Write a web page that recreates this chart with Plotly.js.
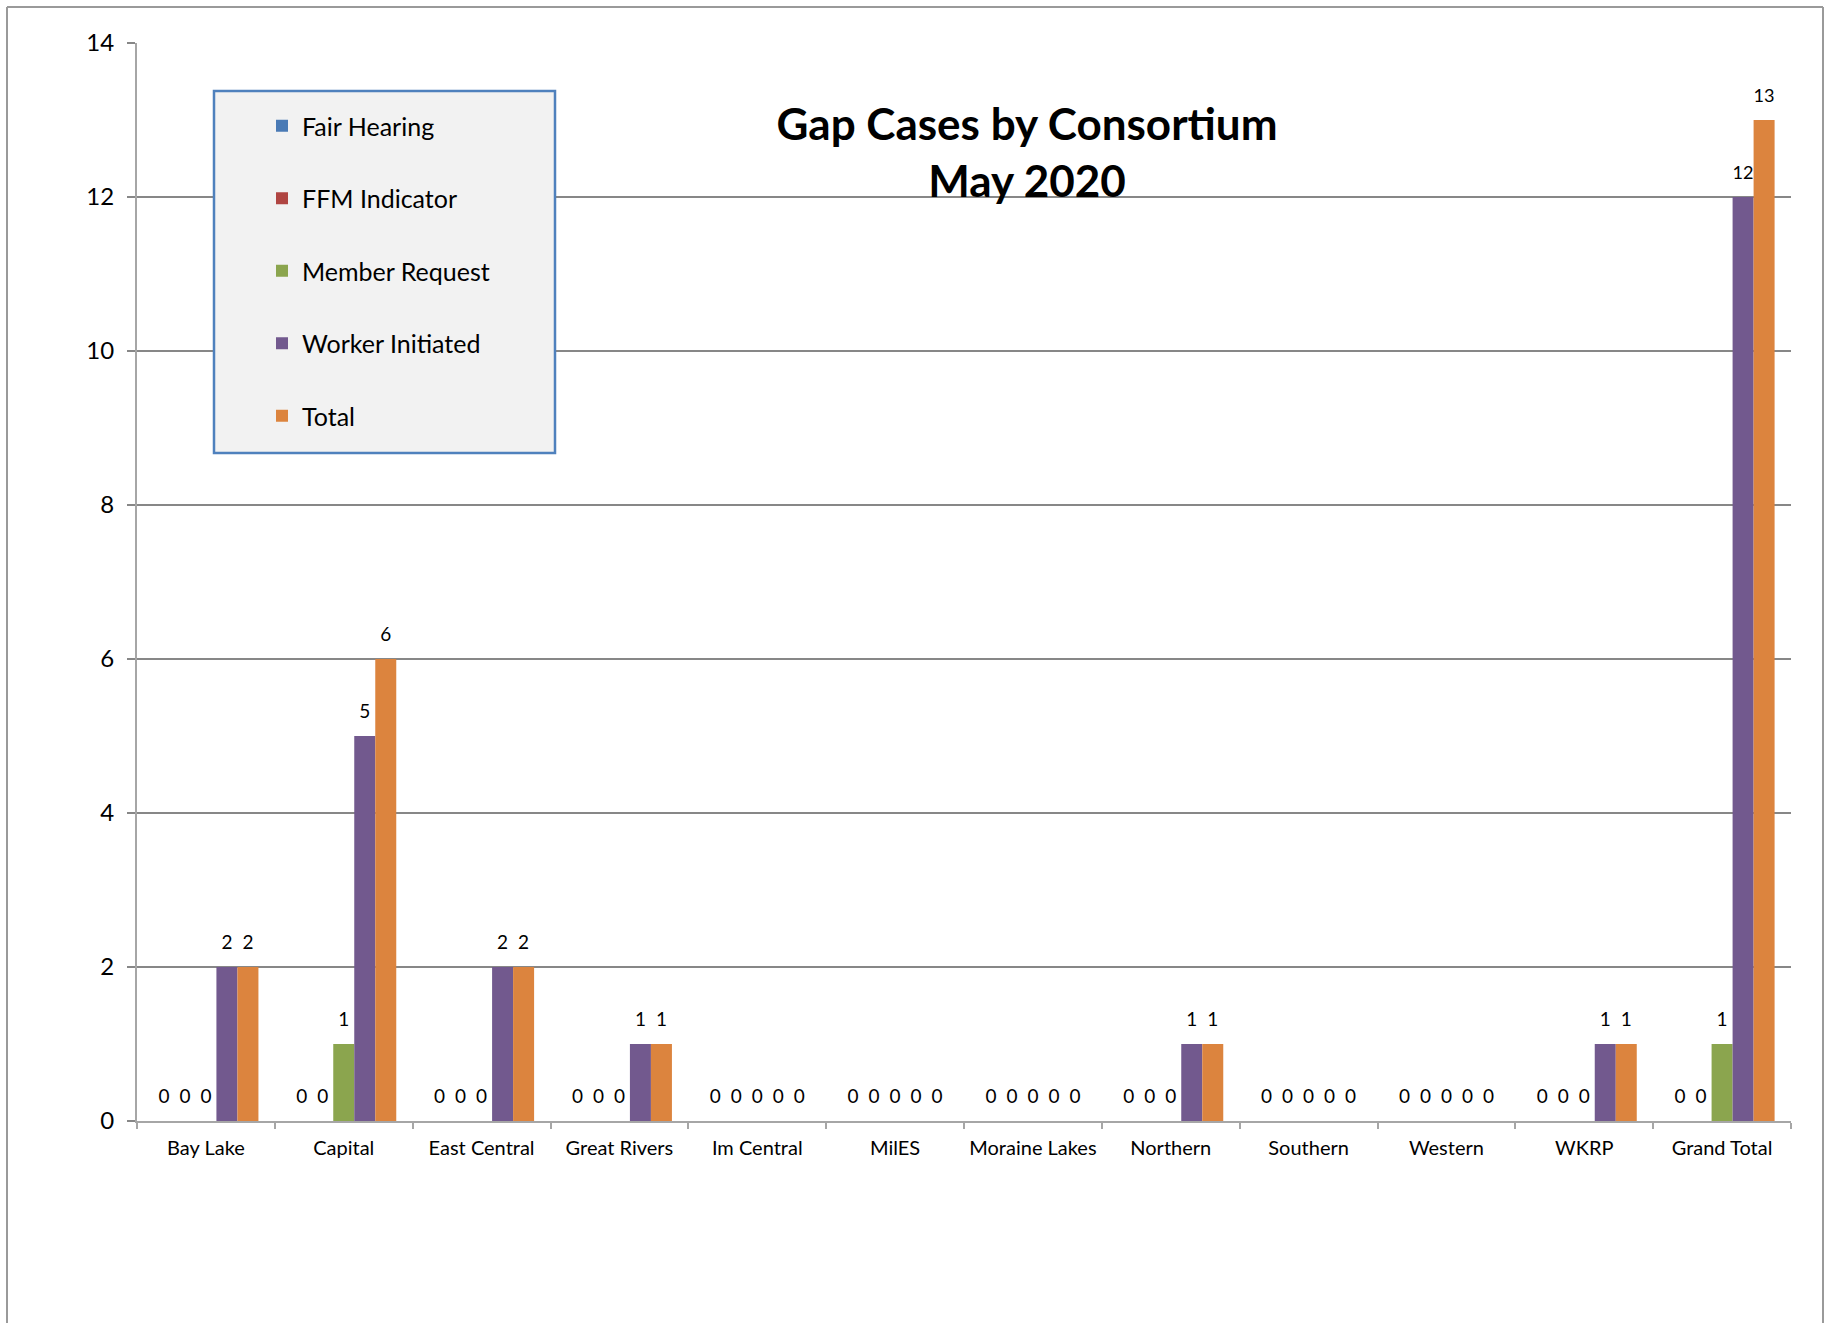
<!DOCTYPE html>
<html>
<head>
<meta charset="utf-8">
<script src="https://cdn.plot.ly/plotly-3.0.1.min.js"></script>
<style>
  html, body { margin: 0; padding: 0; background: #ffffff; }
  #chart { width: 1834px; height: 1323px; }
</style>
</head>
<body>
<div id="chart"></div>
<script>
// ---- data ----
const categories = ["Bay Lake", "Capital", "East Central", "Great Rivers", "Im Central", "MilES",
                    "Moraine Lakes", "Northern", "Southern", "Western", "WKRP", "Grand Total"];
const fairHearing     = [0, 0, 0, 0, 0, 0, 0, 0, 0, 0, 0, 0];
const ffmIndicator    = [0, 0, 0, 0, 0, 0, 0, 0, 0, 0, 0, 0];
const memberRequest   = [0, 1, 0, 0, 0, 0, 0, 0, 0, 0, 0, 1];
const workerInitiated = [2, 5, 2, 1, 0, 0, 0, 1, 0, 0, 1, 12];
const total           = [2, 6, 2, 1, 0, 0, 0, 1, 0, 0, 1, 13];
const seriesNames  = ["Fair Hearing", "FFM Indicator", "Member Request", "Worker Initiated", "Total"];
const seriesValues = [fairHearing, ffmIndicator, memberRequest, workerInitiated, total];
const seriesColors = ["#4a7ab5", "#b04542", "#8ba54e", "#72598e", "#dc843e"];
const yTickVals = [0, 2, 4, 6, 8, 10, 12, 14];

// ---- layout geometry (pixels) ----
const W = 1834, H = 1323;
const plotL = 137, plotR = 1791, plotT = 43, plotB = 1121;
const pw = plotR - plotL, ph = plotB - plotT;
const px = v => (v - plotL) / pw;
const py = v => (plotB - v) / ph;
const labelLift = 11; // extra px between bar top and data label
const yMax = 14;
const liftUnits = labelLift / ph * yMax;

const FONT = "Lato, 'Open Sans', 'DejaVu Sans', sans-serif";

const traces = [];
// visible bars with legend
seriesNames.forEach((name, i) => {
  traces.push({
    type: "bar",
    name: name,
    x: categories,
    y: seriesValues[i],
    marker: { color: seriesColors[i], line: { width: 0 } },
    legendgroup: "g" + i,
    hoverinfo: "x+y+name",
    xaxis: "x", yaxis: "y"
  });
});
// data-label traces on an overlaid axis (shifted slightly so labels sit above the bars)
seriesNames.forEach((name, i) => {
  traces.push({
    type: "bar",
    name: name + " label",
    x: categories,
    y: seriesValues[i],
    text: seriesValues[i].map(v => String(v)),
    textposition: "outside",
    cliponaxis: false,
    outsidetextfont: { family: FONT, size: 19, color: "#000000" },
    marker: { color: "rgba(0,0,0,0)", line: { width: 0 } },
    showlegend: false,
    hoverinfo: "skip",
    xaxis: "x", yaxis: "y2"
  });
});

const layout = {
  width: W, height: H,
  paper_bgcolor: "#ffffff",
  plot_bgcolor: "rgba(0,0,0,0)",
  margin: { l: plotL, r: W - plotR, t: plotT, b: H - plotB, pad: 0 },
  barmode: "group",
  bargap: 0.238,
  bargroupgap: 0,
  font: { family: FONT, color: "#000000" },
  title: {
    text: "Gap Cases by Consortium<br>May 2020",
    font: { family: FONT, size: 44, weight: "bold", color: "#000000" },
    xref: "container", x: 1027 / W, xanchor: "center",
    yref: "container", y: 1 - 140 / H, yanchor: "top"
  },
  xaxis: {
    type: "category",
    showgrid: false,
    showline: true, linecolor: "#a6a6a6", linewidth: 2,
    ticks: "outside", tickson: "boundaries", ticklen: 6, tickcolor: "#a6a6a6", tickwidth: 2,
    tickfont: { family: FONT, size: 20, color: "#000000" },
    ticklabelstandoff: 8,
    zeroline: false,
    fixedrange: true
  },
  yaxis: {
    range: [0, yMax],
    tickvals: yTickVals,
    showgrid: true, gridcolor: "#878787", gridwidth: 2,
    showline: true, linecolor: "#a6a6a6", linewidth: 2,
    ticks: "outside", ticklen: 8, tickcolor: "#878787", tickwidth: 2,
    tickfont: { family: FONT, size: 24, color: "#000000" },
    ticklabelstandoff: 8,
    zeroline: false,
    fixedrange: true
  },
  yaxis2: {
    overlaying: "y",
    range: [-liftUnits, yMax - liftUnits],
    visible: false,
    showgrid: false, zeroline: false,
    fixedrange: true
  },
  legend: {
    x: px(262), xanchor: "left",
    y: py(103), yanchor: "top",
    bgcolor: "rgba(0,0,0,0)",
    borderwidth: 0,
    font: { family: FONT, size: 25, color: "#000000" },
    tracegroupgap: 37,
    itemclick: false, itemdoubleclick: false
  },
  shapes: [
    // legend box
    { type: "rect", xref: "paper", yref: "paper", layer: "above",
      x0: px(214), x1: px(555), y0: py(453), y1: py(91),
      fillcolor: "#f2f2f2", line: { color: "#4f81bd", width: 2.5 } },
    // outer chart frame (left, top, right)
    { type: "line", xref: "paper", yref: "paper", layer: "above",
      x0: px(7), x1: px(7), y0: py(1330), y1: py(7), line: { color: "#9a9a9a", width: 2 } },
    { type: "line", xref: "paper", yref: "paper", layer: "above",
      x0: px(7), x1: px(1823), y0: py(7), y1: py(7), line: { color: "#9a9a9a", width: 2 } },
    { type: "line", xref: "paper", yref: "paper", layer: "above",
      x0: px(1823), x1: px(1823), y0: py(7), y1: py(1330), line: { color: "#9a9a9a", width: 2 } }
  ],
  hovermode: "closest"
};

Plotly.newPlot("chart", traces, layout, { displayModeBar: false, staticPlot: true });
</script>
</body>
</html>
